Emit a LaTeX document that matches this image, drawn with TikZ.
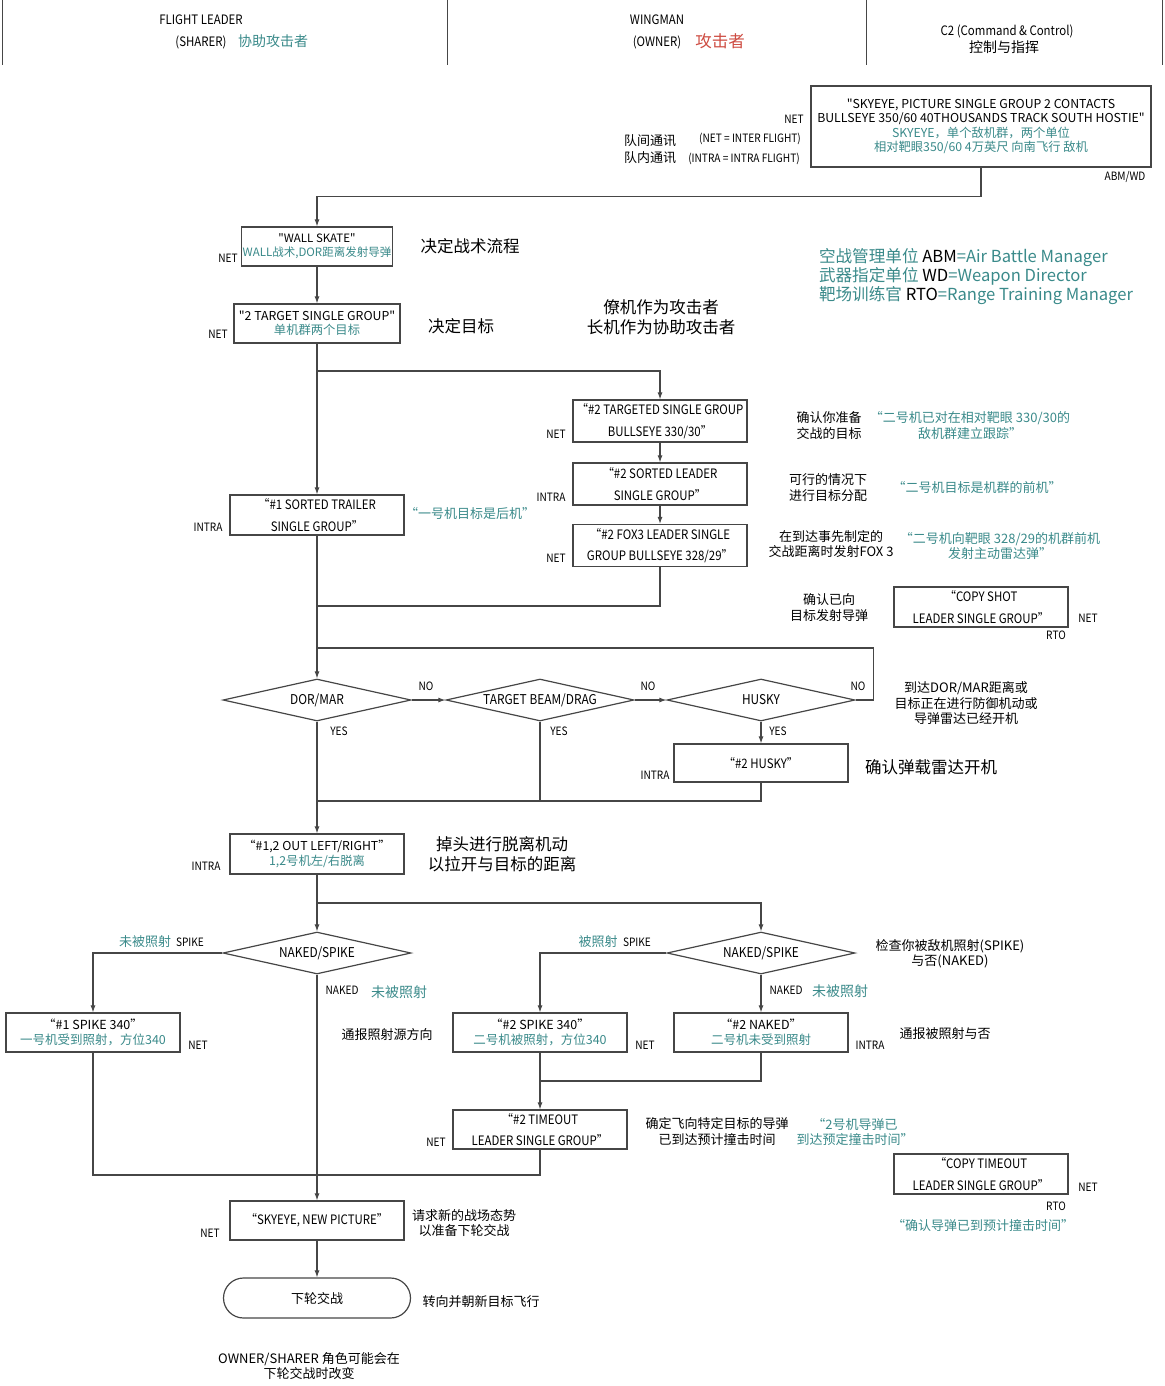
\documentclass[tikz,border=0pt]{standalone}
\usepackage{fontspec}
\setmainfont{Noto Sans CJK SC}[Ligatures=TeXOff]
\newfontfamily\condf[FakeStretch=0.88,Ligatures=TeXOff]{Noto Sans CJK SC}
\usepackage{xcolor}
\usetikzlibrary{shapes.geometric,arrows.meta,positioning}
\definecolor{lgray}{RGB}{70,70,70}
\definecolor{cteal}{RGB}{58,138,138}
\definecolor{cred}{RGB}{205,75,65}
\newcommand\tealtxt[1]{{\rmfamily\color{cteal}#1}}

\begin{document}
\begin{tikzpicture}[x=1pt,y=-1pt,
        boxnode/.style={rectangle, draw=lgray, line width=1.2pt, fill=white, minimum width=174pt, minimum height=40pt, inner sep=1pt, align=center, font=\condf\fontsize{13}{14.5}\selectfont},
        decnode/.style={diamond, draw=lgray, line width=1.2pt, fill=white, minimum width=188pt, minimum height=42pt, shape aspect=4.5, inner sep=0pt, font=\condf\fontsize{13.5}{15}\selectfont},
        endnode/.style={rectangle, rounded corners=20pt, draw=lgray, line width=1.2pt, minimum width=187pt, minimum height=40pt, font=\fontsize{13}{15}\selectfont},
        tagnode/.style={font=\condf\fontsize{11.5}{13}\selectfont, inner sep=0pt},
        hdrnode/.style={font=\condf\fontsize{13}{15}\selectfont, inner sep=0pt},
        notenode/.style={font=\fontsize{13}{15.5}\selectfont, align=center, inner sep=0pt},
        bignote/.style={font=\fontsize{16.5}{19.5}\selectfont, align=center, inner sep=0pt},
        tealnote/.style={notenode, text=cteal},
        flow/.style={draw=lgray, line width=1.1pt},
        arrow/.style={flow, -{Latex[length=7pt,width=5pt]}},
    ]
    \useasboundingbox (0,0) rectangle (1164,1386);
    %Header
    \foreach \hx in {2,447,866,1162}
        \draw[lgray, line width=0.9pt] (\hx,0) -- (\hx,65);
    \node[hdrnode] (fleadnode) at (201,20) {FLIGHT LEADER};
    \node[hdrnode] (sharernode) at (201,42) {(SHARER)};
    \node[notenode, text=cteal, font=\fontsize{14}{16}\selectfont] (sharercn) at (273,41) {协助攻击者};
    \node[hdrnode] (wingnode) at (657,20) {WINGMAN};
    \node[hdrnode] (ownernode) at (657,42) {(OWNER)};
    \node[notenode, text=cred, font=\fontsize{16.5}{18}\selectfont] (ownercn) at (720,41) {攻击者};
    \node[hdrnode] (c2node) at (1007,31) {C2 (Command \& Control)};
    \node[notenode, font=\fontsize{14}{16}\selectfont] (c2cn) at (1004,47) {控制与指挥};

    %Nodes
    \node[boxnode, minimum width=340pt, minimum height=81pt, font=\fontsize{12.3}{14.5}\selectfont] (c2box) at (981,126.5)
        {"SKYEYE, PICTURE SINGLE GROUP 2 CONTACTS\\BULLSEYE 350/60 40THOUSANDS TRACK SOUTH HOSTIE"\\\tealtxt{SKYEYE，单个敌机群，两个单位}\\\tealtxt{相对靶眼350/60 4万英尺 向南飞行 敌机}};
    \node[boxnode, minimum width=150pt, minimum height=39pt, font=\fontsize{11.5}{14}\selectfont] (wallbox) at (317,246.5)
        {"WALL SKATE"\\\tealtxt{WALL战术,DOR距离发射导弹}};
    \node[boxnode, minimum width=166pt, minimum height=39pt, font=\fontsize{12.3}{14.5}\selectfont] (tgtbox) at (317,323.5)
        {"2 TARGET SINGLE GROUP"\\\tealtxt{单机群两个目标}};
    \node[boxnode] (trailbox) at (317,515) {“\#1 SORTED TRAILER\\[7pt]SINGLE GROUP”};
    \node[boxnode, minimum height=42pt] (tgdbox) at (660,421) {“\#2 TARGETED SINGLE GROUP\\[7pt]BULLSEYE 330/30”};
    \node[boxnode, minimum height=42pt] (sortbox) at (660,484) {“\#2 SORTED LEADER\\[7pt]SINGLE GROUP”};
    \node[boxnode, minimum height=42pt] (foxbox) at (660,545.5) {“\#2 FOX3 LEADER SINGLE\\[7pt]GROUP BULLSEYE 328/29”};
    \node[boxnode] (shotbox) at (981,607) {“COPY SHOT\\[7pt]LEADER SINGLE GROUP”};
    \node[decnode] (dordec) at (317,700) {DOR/MAR};
    \node[decnode] (beamdec) at (540,700) {TARGET BEAM/DRAG};
    \node[decnode] (huskydec) at (761,700) {HUSKY};
    \node[boxnode, minimum height=38pt] (huskybox) at (761,763) {“\#2 HUSKY”};
    \node[boxnode, font=\fontsize{12.3}{15}\selectfont] (outbox) at (317,854)
        {“\#1,2 OUT LEFT/RIGHT”\\\tealtxt{1,2号机左/右脱离}};
    \node[decnode] (lnakeddec) at (317,953) {NAKED/SPIKE};
    \node[decnode] (rnakeddec) at (761,953) {NAKED/SPIKE};
    \node[boxnode, minimum height=39pt, font=\fontsize{12.5}{15}\selectfont] (spike1box) at (93,1032.5)
        {“\#1 SPIKE 340”\\\tealtxt{一号机受到照射，方位340}};
    \node[boxnode, minimum height=39pt, font=\fontsize{12.5}{15}\selectfont] (spike2box) at (540,1032.5)
        {“\#2 SPIKE 340”\\\tealtxt{二号机被照射，方位340}};
    \node[boxnode, minimum height=39pt, font=\fontsize{12.5}{15}\selectfont] (naked2box) at (761,1032.5)
        {“\#2 NAKED”\\\tealtxt{二号机未受到照射}};
    \node[boxnode, minimum height=39pt] (timebox) at (540,1129.5) {“\#2 TIMEOUT\\[7pt]LEADER SINGLE GROUP”};
    \node[boxnode] (copytimebox) at (981,1174) {“COPY TIMEOUT\\[7pt]LEADER SINGLE GROUP”};
    \node[boxnode, minimum height=39pt] (picbox) at (317,1220.5) {“SKYEYE, NEW PICTURE”};
    \node[endnode] (endbox) at (317,1298) {下轮交战};

    %Tags
    \node[tagnode] (c2net) at (794,119) {NET};
    \node[tagnode] (c2abm) at (1125,177) {ABM/WD};
    \node[notenode] (netcn) at (650,141) {队间通讯};
    \node[tagnode] (netdef) at (750,139) {(NET = INTER FLIGHT)};
    \node[notenode] (intracn) at (650,158) {队内通讯};
    \node[tagnode] (intradef) at (744,159) {(INTRA = INTRA FLIGHT)};
    \node[tagnode] (wallnet) at (228,258) {NET};
    \node[tagnode] (tgtnet) at (218,334) {NET};
    \node[tagnode] (tgdnet) at (556,434) {NET};
    \node[tagnode] (sortintra) at (551,497) {INTRA};
    \node[tagnode] (foxnet) at (556,558) {NET};
    \node[tagnode] (trailintra) at (208,527) {INTRA};
    \node[tagnode] (shotnet) at (1088,618) {NET};
    \node[tagnode] (shotrto) at (1056,635) {RTO};
    \node[tagnode] (dorno) at (426,686) {NO};
    \node[tagnode] (beamno) at (648,686) {NO};
    \node[tagnode] (huskyno) at (858,686) {NO};
    \node[tagnode] (doryes) at (339,731) {YES};
    \node[tagnode] (beamyes) at (559,731) {YES};
    \node[tagnode] (huskyyes) at (778,731) {YES};
    \node[tagnode] (huskyintra) at (655,775) {INTRA};
    \node[tagnode] (outintra) at (206,866) {INTRA};
    \node[tagnode] (lspike) at (190,942) {SPIKE};
    \node[notenode, text=cteal] (lspikecn) at (145,942) {未被照射};
    \node[tagnode] (rspike) at (637,942) {SPIKE};
    \node[notenode, text=cteal] (rspikecn) at (598,942) {被照射};
    \node[tagnode] (lnaked) at (342,990) {NAKED};
    \node[notenode, text=cteal, font=\fontsize{14}{16}\selectfont] (lnakedcn) at (399,992) {未被照射};
    \node[tagnode] (rnaked) at (786,990) {NAKED};
    \node[notenode, text=cteal, font=\fontsize{14}{16}\selectfont] (rnakedcn) at (840,991) {未被照射};
    \node[tagnode] (spike1net) at (198,1045) {NET};
    \node[tagnode] (spike2net) at (645,1045) {NET};
    \node[tagnode] (naked2intra) at (870,1045) {INTRA};
    \node[tagnode] (timenet) at (436,1142) {NET};
    \node[tagnode] (copytimenet) at (1088,1187) {NET};
    \node[tagnode] (copytimerto) at (1056,1206) {RTO};
    \node[tagnode] (picnet) at (210,1233) {NET};

    %Notes
    \node[bignote] (wallnote) at (470,246) {决定战术流程};
    \node[bignote] (tgtnote) at (461,326) {决定目标};
    \node[bignote] (rolenote) at (661,317) {僚机作为攻击者\\长机作为协助攻击者};
    \node[notenode, align=left, font=\fontsize{16.6}{19}\selectfont] (legend) at (976,277)
        {\color{cteal}空战管理单位 \color{black}ABM\color{cteal}=Air Battle Manager\\
         \color{cteal}武器指定单位 \color{black}WD\color{cteal}=Weapon Director\\
         \color{cteal}靶场训练官 \color{black}RTO\color{cteal}=Range Training Manager};
    \node[notenode] (tgdnote) at (829,425.5) {确认你准备\\交战的目标};
    \node[tealnote] (tgdteal) at (970,425.5) {“二号机已对在相对靶眼 330/30的\\敌机群建立跟踪”};
    \node[notenode] (sortnote) at (828,487.5) {可行的情况下\\进行目标分配};
    \node[tealnote] (sortteal) at (977,488) {“二号机目标是机群的前机”};
    \node[notenode] (foxnote) at (831,544) {在到达事先制定的\\交战距离时发射FOX 3};
    \node[tealnote] (foxteal) at (1000,546) {“二号机向靶眼 328/29的机群前机\\发射主动雷达弹”};
    \node[tealnote] (trailteal) at (470,514) {“一号机目标是后机”};
    \node[notenode] (shotnote) at (829,607.5) {确认已向\\目标发射导弹};
    \node[notenode] (decnote) at (966,703.5) {到达DOR/MAR距离或\\目标正在进行防御机动或\\导弹雷达已经开机};
    \node[bignote] (huskynote) at (931,767) {确认弹载雷达开机};
    \node[bignote] (outnote) at (502,854) {掉头进行脱离机动\\以拉开与目标的距离};
    \node[notenode] (spikenote) at (950,954) {检查你被敌机照射(SPIKE)\\与否(NAKED)};
    \node[notenode] (srcnote) at (387,1035) {通报照射源方向};
    \node[notenode] (nakednote) at (945,1034) {通报被照射与否};
    \node[notenode] (timenote) at (717,1131.5) {确定飞向特定目标的导弹\\已到达预计撞击时间};
    \node[tealnote] (timeteal) at (855,1132) {“2号机导弹已\\到达预定撞击时间”};
    \node[tealnote] (copytimeteal) at (983,1226) {“确认导弹已到预计撞击时间”};
    \node[notenode] (picnote) at (464,1223) {请求新的战场态势\\以准备下轮交战};
    \node[notenode] (endnote) at (481,1302) {转向并朝新目标飞行};
    \node[notenode] (rolechange) at (309,1366) {OWNER/SHARER 角色可能会在\\下轮交战时改变};

    %Joints
    \coordinate (split1) at (317,371);
    \coordinate (join1) at (317,606);
    \coordinate (join2) at (317,648);
    \coordinate (join3) at (317,801);
    \coordinate (split2) at (317,903);
    \coordinate (join4) at (540,1081);
    \coordinate (join5) at (317,1175);

    %Lines
    \draw[arrow] (c2box.south) -- ++(0,29) -| (wallbox.north);
    \draw[arrow] (wallbox) -- (tgtbox);
    \draw[arrow] (tgtbox) -- (trailbox);
    \draw[arrow] (split1) -| (tgdbox.north);
    \draw[arrow] (tgdbox) -- (sortbox);
    \draw[arrow] (sortbox) -- (foxbox);
    \draw[flow] (foxbox.south) |- (join1);
    \draw[arrow] (trailbox) -- (dordec);
    \draw[arrow] (dordec) -- (beamdec);
    \draw[arrow] (beamdec) -- (huskydec);
    \draw[flow] (huskydec.east) -- ++(18,0) |- (join2);
    \draw[arrow] (huskydec) -- (huskybox);
    \draw[flow] (huskybox.south) |- (join3);
    \draw[flow] (beamdec.south) |- (join3);
    \draw[arrow] (dordec) -- (outbox);
    \draw[arrow] (outbox) -- (lnakeddec);
    \draw[arrow] (split2) -| (rnakeddec.north);
    \draw[arrow] (lnakeddec.west) -| (spike1box.north);
    \draw[arrow] (lnakeddec) -- (picbox);
    \draw[arrow] (rnakeddec.west) -| (spike2box.north);
    \draw[arrow] (rnakeddec) -- (naked2box);
    \draw[flow] (naked2box.south) |- (join4);
    \draw[arrow] (spike2box) -- (timebox);
    \draw[flow] (spike1box.south) |- (join5);
    \draw[flow] (timebox.south) |- (join5);
    \draw[arrow] (picbox) -- (endbox);
\end{tikzpicture}
\end{document}
